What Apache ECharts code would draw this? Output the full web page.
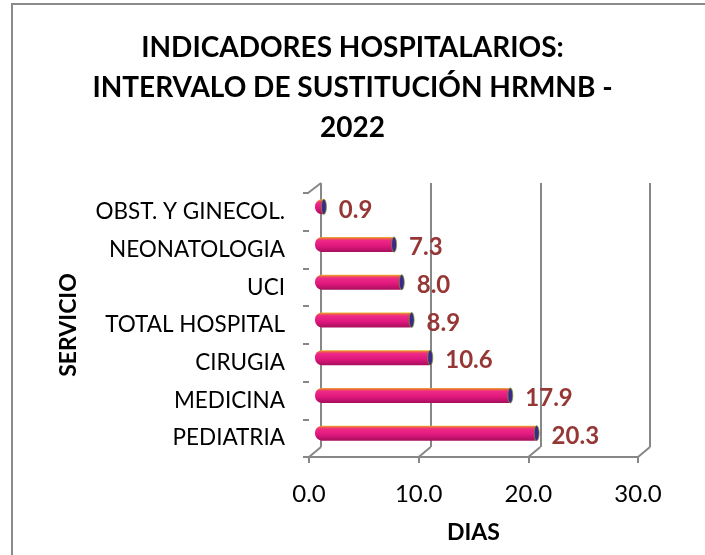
<!DOCTYPE html>
<html>
<head>
<meta charset="utf-8">
<script src="https://cdn.jsdelivr.net/npm/echarts@6/dist/echarts.min.js"></script>
<style>
html,body{margin:0;padding:0;background:#fff;}
#main{width:705px;height:555px;}
</style>
</head>
<body>
<div id="main"></div>
<script>
var titleText = 'INDICADORES HOSPITALARIOS:\nINTERVALO DE SUSTITUCIÓN HRMNB -\n2022';
var categories = ['PEDIATRIA', 'MEDICINA', 'CIRUGIA', 'TOTAL HOSPITAL', 'UCI', 'NEONATOLOGIA', 'OBST. Y GINECOL.'];
var values = [20.3, 17.9, 10.6, 8.9, 8.0, 7.3, 0.9];
var xTicks = [0, 10, 20, 30];
var xName = 'DIAS';
var yName = 'SERVICIO';

var FONT = 'Lato, "Open Sans", sans-serif';
var GRAY = '#878787';
var DX = 12, DY = 10; // depth offset of back wall

var chart = echarts.init(document.getElementById('main'));

var front = {left: 309, right: 67, top: 193, bottom: 98};
function shift(g, f) {
  return {left: g.left + DX * f, right: g.right - DX * f, top: g.top - DY * f, bottom: g.bottom + DY * f};
}
var back = shift(front, 1);
var mid = shift(front, 0.5);

var barGrad = new echarts.graphic.LinearGradient(0, 0, 0, 1, [
  {offset: 0, color: '#e8b830'},
  {offset: 0.1, color: '#f0604a'},
  {offset: 0.22, color: '#ee2a86'},
  {offset: 0.6, color: '#e0177e'},
  {offset: 1, color: '#a60f5c'}
]);

var option = {
  backgroundColor: '#fff',
  animation: false,
  title: {
    text: titleText,
    left: 'center',
    top: 23,
    textStyle: {fontFamily: FONT, fontSize: 28, fontWeight: 'bold', color: '#000', lineHeight: 40}
  },
  graphic: [{
    type: 'rect', silent: true,
    shape: {x: 12, y: 4, width: 900, height: 900},
    style: {fill: 'none', stroke: '#8a8a8a', lineWidth: 2}
  }],
  grid: [
    Object.assign({containLabel: false}, front),
    Object.assign({containLabel: false}, back),
    Object.assign({containLabel: false}, mid)
  ],
  xAxis: [{
    gridIndex: 0, type: 'value', min: xTicks[0], max: xTicks[xTicks.length - 1], interval: 10,
    axisLine: {show: true, lineStyle: {color: GRAY, width: 2}},
    axisTick: {show: true, length: 6, lineStyle: {color: GRAY, width: 2}},
    splitLine: {show: false},
    axisLabel: {fontFamily: FONT, fontSize: 24, color: '#000', margin: 25,
      formatter: function (v) { return v.toFixed(1); }},
    name: xName, nameLocation: 'middle', nameGap: 64,
    nameTextStyle: {fontFamily: FONT, fontSize: 23, fontWeight: 'bold', color: '#000'}
  }, {
    gridIndex: 1, type: 'value', min: xTicks[0], max: xTicks[xTicks.length - 1], interval: 10,
    axisLine: {show: false}, axisTick: {show: false}, axisLabel: {show: false},
    splitLine: {show: true, lineStyle: {color: GRAY, width: 2}}
  }, {
    gridIndex: 2, type: 'value', min: xTicks[0], max: xTicks[xTicks.length - 1], interval: 10,
    show: false
  }],
  yAxis: [{
    gridIndex: 0, type: 'category', data: categories,
    axisLine: {show: false},
    axisTick: {show: true, length: 6, lineStyle: {color: GRAY, width: 2}},
    axisLabel: {fontFamily: FONT, fontSize: 22.5, color: '#000', margin: 24},
    name: yName, nameLocation: 'middle', nameGap: 229, nameRotate: 90,
    nameTextStyle: {fontFamily: FONT, fontSize: 23, fontWeight: 'bold', color: '#000'}
  }, {
    gridIndex: 1, type: 'category', data: categories, show: false
  }, {
    gridIndex: 2, type: 'category', data: categories, show: false
  }],
  series: [{
    type: 'custom', xAxisIndex: 0, yAxisIndex: 0, silent: true,
    data: xTicks,
    renderItem: function (params, api) {
      var cs = params.coordSys;
      var p = api.coord([api.value(0), 0]);
      var yb = cs.y + cs.height;
      var children = [{
        type: 'line',
        shape: {x1: p[0], y1: yb, x2: p[0] + DX, y2: yb - DY},
        style: {stroke: GRAY, lineWidth: 2}
      }];
      if (params.dataIndex === 0) {
        children.push({
          type: 'line',
          shape: {x1: cs.x - 1, y1: cs.y, x2: cs.x + DX, y2: cs.y - DY},
          style: {stroke: GRAY, lineWidth: 2}
        });
      }
      return {type: 'group', children: children};
    }
  }, {
    type: 'bar', xAxisIndex: 2, yAxisIndex: 2,
    data: values, barWidth: 15,
    itemStyle: {color: barGrad, borderRadius: [7, 3, 3, 7]},
    label: {
      show: true, position: 'right', distance: 14,
      formatter: function (p) { return p.value.toFixed(1); },
      fontFamily: FONT, fontSize: 24, fontWeight: 'bold', color: '#953735', offset: [0, 3]
    }
  }, {
    type: 'custom', xAxisIndex: 2, yAxisIndex: 2, silent: true,
    data: values.map(function (v, i) { return [v, i]; }),
    renderItem: function (params, api) {
      var p = api.coord([api.value(0), api.value(1)]);
      return {
        type: 'ellipse',
        shape: {cx: p[0] - 1, cy: p[1], rx: 2.5, ry: 7.5},
        style: {fill: '#3b2a8a', stroke: '#7a9a2a', lineWidth: 0.8}
      };
    },
    z: 3
  }]
};
chart.setOption(option);
</script>
</body>
</html>
